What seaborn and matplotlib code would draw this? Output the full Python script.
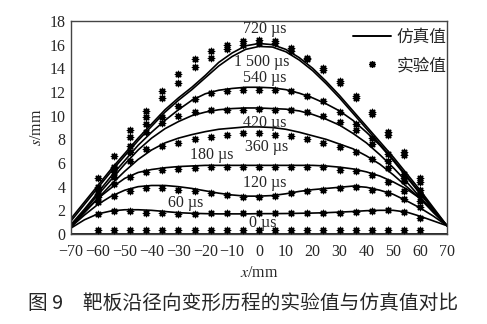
import numpy as np
import pandas as pd
import matplotlib
matplotlib.use("Agg")
import matplotlib.pyplot as plt
from matplotlib.lines import Line2D
import seaborn as sns

# Radial position of the simulated profiles (mm)
x_sim = [-70, -65, -60, -55, -50, -45, -40, -35, -30, -25, -20, -15, -10, -5, 0,
         5, 10, 15, 20, 25, 30, 35, 40, 45, 50, 55, 60, 65, 70]

# Simulated deflection s (mm) at each time
sim_0 = [0.0] * 29
sim_60 = [0.5, 1.2, 1.7, 1.95, 2.05, 2.05, 2.0, 1.9, 1.8, 1.75, 1.72, 1.7, 1.7, 1.7, 1.72,
          1.72, 1.73, 1.75, 1.77, 1.8, 1.85, 1.9, 1.97, 2.0, 2.0, 1.85, 1.5, 1.1, 0.7]
sim_120 = [0.6, 1.6, 2.5, 3.2, 3.7, 4.0, 4.1, 4.1, 4.0, 3.85, 3.65, 3.45, 3.3, 3.2, 3.2,
           3.25, 3.4, 3.6, 3.75, 3.85, 3.95, 4.05, 3.95, 3.7, 3.35, 2.8, 2.2, 1.5, 0.7]
sim_180 = [0.6, 1.9, 3.0, 3.9, 4.7, 5.2, 5.45, 5.6, 5.7, 5.75, 5.8, 5.8, 5.8, 5.8, 5.8,
           5.8, 5.8, 5.8, 5.8, 5.75, 5.65, 5.5, 5.25, 4.9, 4.4, 3.8, 3.0, 1.9, 0.7]
sim_360 = [0.6, 1.8, 3.0, 4.2, 5.3, 6.3, 7.1, 7.7, 8.1, 8.4, 8.65, 8.85, 8.95, 9.05, 9.05,
           9.0, 8.85, 8.6, 8.3, 8.0, 7.6, 7.2, 6.6, 5.9, 5.0, 4.0, 3.0, 1.8, 0.7]
sim_420 = [0.7, 2.0, 3.3, 4.6, 5.9, 7.1, 8.1, 8.9, 9.5, 10.0, 10.3, 10.5, 10.6, 10.65, 10.65,
           10.6, 10.55, 10.4, 10.1, 9.7, 9.2, 8.5, 7.7, 6.7, 5.6, 4.4, 3.1, 1.9, 0.7]
sim_540 = [0.8, 2.1, 3.5, 4.9, 6.2, 7.5, 8.6, 9.6, 10.5, 11.3, 11.85, 12.15, 12.3, 12.4, 12.4,
           12.35, 12.2, 11.9, 11.5, 11.0, 10.4, 9.6, 8.6, 7.5, 6.2, 4.8, 3.4, 2.0, 0.7]
sim_720 = [1.3, 2.7, 4.1, 5.5, 6.8, 8.1, 9.3, 10.5, 11.5, 12.4, 13.4, 14.5, 15.3, 15.9, 16.1,
           16.0, 15.6, 14.9, 14.0, 12.9, 11.7, 10.4, 9.1, 7.8, 6.5, 5.1, 3.7, 2.2, 0.7]
sim_1500 = [1.1, 2.5, 3.9, 5.3, 6.6, 7.9, 9.1, 10.3, 11.3, 12.2, 13.2, 14.2, 15.0, 15.6, 15.85,
            15.8, 15.4, 14.7, 13.8, 12.7, 11.5, 10.2, 8.9, 7.6, 6.3, 4.9, 3.5, 2.1, 0.7]

# Measurement positions (mm) and measured deflection s (mm)
x_exp = [-60, -54, -48, -42, -36, -30, -24, -18, -12, -6, 0,
         6, 12, 18, 24, 30, 36, 42, 48, 54, 60]
exp_0 = [0.3] * 21
exp_60 = [1.7, 1.95, 1.95, 1.8, 1.75, 1.7, 1.7, 1.75, 1.8, 1.8, 1.8,
          1.75, 1.75, 1.75, 1.75, 1.8, 1.85, 1.95, 2.0, 1.9, 1.35]
exp_120 = [2.7, 3.25, 3.65, 3.85, 3.85, 3.75, 3.6, 3.45, 3.3, 3.15, 3.15,
           3.25, 3.5, 3.6, 3.75, 3.9, 3.95, 3.75, 3.5, 3.0, 2.3]
exp_180 = [3.3, 4.2, 4.8, 5.2, 5.4, 5.5, 5.6, 5.65, 5.65, 5.65, 5.7,
           5.7, 5.7, 5.7, 5.65, 5.45, 5.3, 4.95, 4.4, 3.6, 2.8]
exp_360 = [3.1, 4.8, 6.2, 7.2, 7.4, 7.65, 8.0, 8.2, 8.35, 8.5, 8.5,
           8.4, 8.3, 8.0, 7.7, 7.35, 6.9, 6.3, 5.6, 4.5, 3.3]
exp_420 = [3.4, 5.2, 6.9, 8.6, 9.4, 10.0, 10.3, 10.5, 10.5, 10.5, 10.6,
           10.5, 10.5, 10.3, 10.0, 9.5, 8.8, 7.6, 6.2, 4.7, 3.4]
exp_540 = [3.8, 5.6, 7.4, 9.3, 9.9, 10.8, 11.4, 11.9, 12.1, 12.15, 12.2,
           12.2, 12.1, 11.7, 11.2, 10.3, 9.3, 8.1, 6.8, 5.1, 3.7]
exp_720 = [4.7, 6.6, 8.8, 10.4, 12.1, 13.5, 14.8, 15.5, 16.0, 16.3, 16.4,
           16.3, 15.7, 14.9, 14.0, 12.9, 11.7, 10.3, 8.6, 6.9, 4.7]
exp_1500 = [4.0, 5.7, 8.2, 9.9, 11.5, 12.8, 14.1, 14.9, 15.6, 16.0, 16.1,
            16.1, 15.5, 14.8, 13.9, 12.8, 11.5, 10.1, 8.4, 6.7, 4.4]

times = [0, 60, 120, 180, 360, 420, 540, 720, 1500]
sim_series = [sim_0, sim_60, sim_120, sim_180, sim_360, sim_420, sim_540, sim_720, sim_1500]
exp_series = [exp_0, exp_60, exp_120, exp_180, exp_360, exp_420, exp_540, exp_720, exp_1500]

# Curve labels and where they sit (x in mm, s in mm)
time_labels = ["720 µs", "1 500 µs", "540 µs", "420 µs", "360 µs",
               "180 µs", "120 µs", "60 µs", "0 µs"]
label_x = [2.2, 1.2, 2.2, 2.2, 3.0, -17.5, 2.2, -27.2, 1.5]
label_y = [17.35, 14.5, 13.2, 9.35, 7.35, 6.65, 4.35, 2.65, 0.95]

x_ticks = list(range(-70, 71, 10))
y_ticks = list(range(0, 19, 2))

sim_df = pd.concat([pd.DataFrame({"x": x_sim, "s": s, "t": t})
                    for t, s in zip(times, sim_series)], ignore_index=True)
exp_df = pd.concat([pd.DataFrame({"x": x_exp, "s": s, "t": t})
                    for t, s in zip(times, exp_series)], ignore_index=True)

sns.set_theme(style="white")
plt.rcParams["font.family"] = ["Liberation Serif", "DejaVu Serif"]
plt.rcParams["mathtext.fontset"] = "stix"

fig = plt.figure(figsize=(4.87, 3.24), dpi=100)
ax = fig.add_axes([71 / 487, 1 - 234 / 324, 376 / 487, 213 / 324])

star = (8, 2, 0)
sns.scatterplot(data=exp_df, x="x", y="s", ax=ax, color="black", marker=star,
                s=20, linewidth=1.0, edgecolor="black", legend=False, zorder=3)
sns.lineplot(data=sim_df, x="x", y="s", units="t", estimator=None, ax=ax,
             color="black", linewidth=1.2, legend=False, zorder=2)

for txt, lx, ly in zip(time_labels, label_x, label_y):
    ax.text(lx, ly, txt, ha="center", va="center", fontsize=11.5,
            family=["Liberation Serif", "DejaVu Serif"], zorder=4)

ax.set_xlim(-70, 70)
ax.set_ylim(0, 18)
ax.set_xticks(x_ticks)
ax.set_yticks(y_ticks)
ax.tick_params(direction="in", length=3, width=0.8, labelsize=11.5,
               color="#333333")
ax.tick_params(axis="x", pad=7)
ax.tick_params(axis="y", pad=4)
ax.set_xlabel("$x$/mm", fontsize=11.5, labelpad=4)
ax.set_ylabel("$s$/mm", fontsize=11.5, labelpad=3)
for sp in ax.spines.values():
    sp.set_color("#444444")
    sp.set_linewidth(1.0)

cjk = ["Noto Sans CJK SC", "DejaVu Sans"]
handles = [Line2D([], [], color="black", linewidth=1.4),
           Line2D([], [], color="black", linestyle="none", marker=star,
                  markersize=5, markeredgewidth=1.0)]
ax.legend(handles, ["仿真值", "实验值"], loc="upper right", frameon=False,
          prop={"family": cjk, "size": 12}, handlelength=2.3,
          handletextpad=0.35, labelspacing=0.7,
          bbox_to_anchor=(1.03, 1.02), borderaxespad=0.3)

fig.text(0.5, 1 - 303 / 324, "图 9\u3000靶板沿径向变形历程的实验值与仿真值对比",
         ha="center", va="center", fontsize=14.2, family=cjk)

fig.savefig("out.png", dpi=100)
